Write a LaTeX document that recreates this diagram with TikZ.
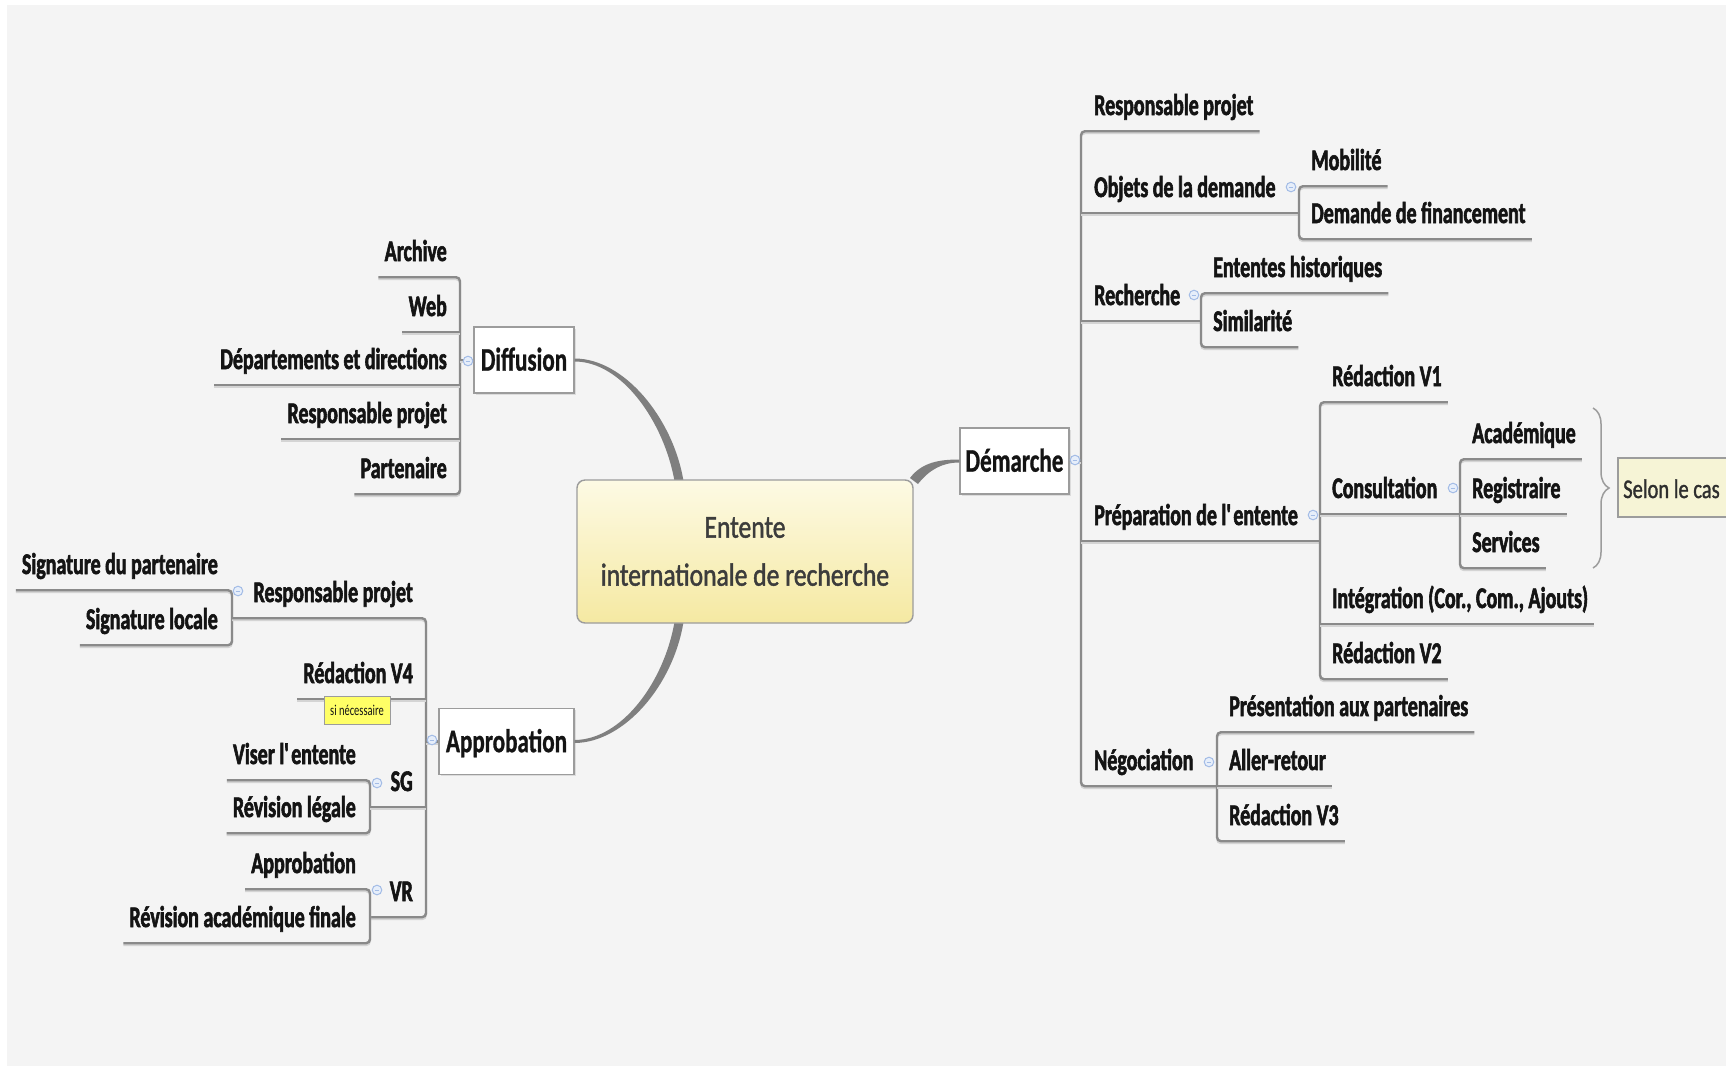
\documentclass[tikz,border=0pt]{standalone}
\usepackage{fontspec}
\newfontfamily\leaffont{Carlito}[FakeStretch=0.665, FakeBold=1.9]
\newfontfamily\topicfont{Carlito}[FakeStretch=0.70, FakeBold=0.8]
\newfontfamily\hubfont{Carlito}[FakeStretch=0.80, FakeBold=1.4]
\newfontfamily\casefont{Carlito}[FakeStretch=0.76, FakeBold=1.2]
\newfontfamily\tagfont{Carlito}[FakeStretch=0.70]
\usetikzlibrary{decorations.pathreplacing,shadows}

\definecolor{bg}{HTML}{F4F4F4}
\definecolor{tree}{HTML}{8A8A8A}
\definecolor{treeshade}{HTML}{D4D4D4}
\definecolor{curve}{HTML}{7F7F7F}
\definecolor{ink}{HTML}{141414}
\definecolor{hubink}{HTML}{3C3C3C}
\definecolor{hubtop}{HTML}{FDFAE4}
\definecolor{hubbot}{HTML}{F5E9A2}
\definecolor{boxline}{HTML}{9C9C9C}
\definecolor{knobline}{HTML}{A3BCE6}
\definecolor{knobfill}{HTML}{E6EEFA}
\definecolor{notefill}{HTML}{FFFF66}
\definecolor{casefill}{HTML}{F6F4D6}
\definecolor{caseink}{HTML}{2E2E2E}

\begin{document}
\begin{tikzpicture}[x=1pt, y=-1pt,
  leafbase/.style={font=\leaffont\bfseries\fontsize{30}{32}\selectfont, text=ink,
    inner xsep=6pt, inner ysep=16pt, text depth=0pt},
  leafL/.style={leafbase, anchor=base east},
  leafR/.style={leafbase, anchor=base west},
  tline/.style={draw=tree, line width=2.4pt, rounded corners=4pt,
    preaction={draw=treeshade, line width=2pt, transform canvas={yshift=-2pt}}},
  topic/.style={draw=boxline, line width=1.4pt, fill=white,
    font=\topicfont\bfseries\fontsize{33}{36}\selectfont, text=ink,
    text height=21.3pt, text depth=0pt, minimum height=66pt, inner xsep=4pt,
    drop shadow={shadow xshift=1.5pt, shadow yshift=-1.5pt, opacity=0.2}},
  hub/.style={rounded corners=8pt, draw=boxline, line width=1.4pt,
    top color=hubtop, bottom color=hubbot, minimum width=336pt, minimum height=143pt,
    align=center, font=\hubfont\fontsize{32}{48}\selectfont, text=hubink},
  note/.style={fill=notefill, draw=boxline, line width=0.8pt, minimum width=66pt,
    minimum height=28pt, inner sep=1pt, font=\tagfont\fontsize{15}{16}\selectfont, text=ink},
  caseframe/.style={fill=casefill, draw=boxline, line width=1.4pt},
  casetext/.style={anchor=base west, inner sep=0pt,
    font=\casefont\fontsize{27}{30}\selectfont, text=caseink},
  bracestyle/.style={draw=boxline, line width=1.5pt, decorate,
    decoration={brace, amplitude=16pt, aspect=0.5}},
  foldmark/.pic={\draw[knobline, fill=knobfill, line width=1pt] (0,0) circle (4.8pt);
    \draw[knobline, line width=1pt] (-2.4pt,0) -- (2.4pt,0);}
]
\useasboundingbox (0,0) rectangle (1726,1069);
\fill[white] (0,0) rectangle (1726,1069);
\fill[bg] (7,5) rectangle (1726,1066);

% vertical bus positions of each branch
\coordinate (dbus) at (460,0);
\coordinate (abus) at (426,0);
\coordinate (sigbus) at (232,0);
\coordinate (sgbus) at (370,0);
\coordinate (vrbus) at (370,0);
\coordinate (mbus) at (1081,0);
\coordinate (objbus) at (1299,0);
\coordinate (rechbus) at (1201,0);
\coordinate (prepbus) at (1320,0);
\coordinate (consbus) at (1460,0);
\coordinate (negbus) at (1217,0);

% main topics
\node[topic, minimum width=100pt] (diff) at (524,360) {Diffusion};
\node[topic, minimum width=135pt] (appr) at (506.5,741.5) {Approbation};
\node[topic, minimum width=109pt] (dem) at (1014.5,461) {Démarche};

% tapered branches from the central topic
\coordinate (dA) at (679,481);
\coordinate (aA) at (679,622);
\fill[curve] ([yshift=1.5pt]diff.east) .. controls (624,358.5) and (673,418) .. ([xshift=4.5pt]dA)
  -- ([xshift=-4.5pt]dA) .. controls (664,422) and (622,361.5) .. ([yshift=-1.5pt]diff.east) -- cycle;
\fill[curve] ([yshift=1.5pt]appr.east) .. controls (622,739.5) and (664,682) .. ([xshift=-4.5pt]aA)
  -- ([xshift=4.5pt]aA) .. controls (673,686) and (624,742.5) .. ([yshift=-1.5pt]appr.east) -- cycle;
\fill[curve] (910,478) .. controls (922,462) and (940,459.5) .. ([yshift=1.5pt]dem.west)
  -- ([yshift=-1.5pt]dem.west) .. controls (942,462.5) and (929,470) .. (918,484) -- cycle;

% central topic
\node[hub] (hub) at (745,551.5) {Entente\\internationale de recherche};

% Diffusion branch
\node[leafL] (arch) at (453,261) {Archive};
\node[leafL] (web) at (453,316) {Web};
\node[leafL] (dep) at (453,369) {Départements et directions};
\node[leafL] (rpd) at (453,423) {Responsable projet};
\node[leafL] (part) at (453,478) {Partenaire};

% Approbation branch
\node[leafL] (sigp) at (224,574) {Signature du partenaire};
\node[leafL] (sigl) at (224,629) {Signature locale};
\node[leafL] (rpa) at (419,602) {Responsable projet};
\node[leafL] (v4) at (419,683) {Rédaction V4};
\node[leafL] (vis) at (362,764) {Viser l\textquotesingle entente};
\node[leafL] (revl) at (362,817) {Révision légale};
\node[leafL] (sg) at (419,791) {SG};
\node[leafL] (appl) at (362,873) {Approbation};
\node[leafL] (reva) at (362,927) {Révision académique finale};
\node[leafL] (vr) at (419,901) {VR};

% Démarche branch
\node[leafR] (rpm) at (1088,115) {Responsable projet};
\node[leafR] (obj) at (1088,197) {Objets de la demande};
\node[leafR] (mob) at (1305,170) {Mobilité};
\node[leafR] (fin) at (1305,223) {Demande de financement};
\node[leafR] (rech) at (1088,305) {Recherche};
\node[leafR] (hist) at (1207,277) {Ententes historiques};
\node[leafR] (sim) at (1207,331) {Similarité};
\node[leafR] (prep) at (1088,525) {Préparation de l\textquotesingle entente};
\node[leafR] (v1) at (1326,386) {Rédaction V1};
\node[leafR] (cons) at (1326,498) {Consultation};
\node[leafR] (acad) at (1466,443) {Académique};
\node[leafR] (reg) at (1466,498) {Registraire};
\node[leafR] (serv) at (1466,552) {Services};
\node[leafR] (integ) at (1326,608) {Intégration (Cor., Com., Ajouts)};
\node[leafR] (v2) at (1326,663) {Rédaction V2};
\node[leafR] (neg) at (1088,770) {Négociation};
\node[leafR] (pres) at (1223,716) {Présentation aux partenaires};
\node[leafR] (aller) at (1223,770) {Aller-retour};
\node[leafR] (v3) at (1223,825) {Rédaction V3};

% Diffusion connectors
\draw[tline] (arch.south west) -- (arch.south -| dbus) -- (part.south -| dbus) -- (part.south west);
\draw[tline] (web.south west) -- (web.south -| dbus);
\draw[tline] (dep.south west) -- (dep.south -| dbus);
\draw[tline] (rpd.south west) -- (rpd.south -| dbus);
\draw[tline] (diff.west) -- (diff.west -| dbus);

% Approbation connectors
\draw[tline] (sigp.south west) -- (sigp.south -| sigbus) -- (sigl.south -| sigbus) -- (sigl.south west);
\draw[tline] (rpa.south -| sigbus) -- (rpa.south -| abus) -- (vr.south -| abus) -- (vr.south -| vrbus);
\draw[tline] (v4.south west) -- (v4.south -| abus);
\draw[tline] (vis.south west) -- (vis.south -| sgbus) -- (revl.south -| sgbus) -- (revl.south west);
\draw[tline] (sg.south -| sgbus) -- (sg.south -| abus);
\draw[tline] (appl.south west) -- (appl.south -| vrbus) -- (reva.south -| vrbus) -- (reva.south west);
\draw[tline] (appr.west) -- (appr.west -| abus);

% Démarche connectors
\draw[tline] (rpm.south east) -- (rpm.south -| mbus) -- (neg.south -| mbus) -- (neg.south -| negbus);
\draw[tline] (obj.south -| mbus) -- (obj.south -| objbus);
\draw[tline] (mob.south east) -- (mob.south -| objbus) -- (fin.south -| objbus) -- (fin.south east);
\draw[tline] (rech.south -| mbus) -- (rech.south -| rechbus);
\draw[tline] (hist.south east) -- (hist.south -| rechbus) -- (sim.south -| rechbus) -- (sim.south east);
\draw[tline] (prep.south -| mbus) -- (prep.south -| prepbus);
\draw[tline] (v1.south east) -- (v1.south -| prepbus) -- (v2.south -| prepbus) -- (v2.south east);
\draw[tline] (cons.south -| prepbus) -- (cons.south -| consbus);
\draw[tline] (integ.south -| prepbus) -- (integ.south east);
\draw[tline] (acad.south east) -- (acad.south -| consbus) -- (serv.south -| consbus) -- (serv.south east);
\draw[tline] (reg.south -| consbus) -- (reg.south east);
\draw[tline] (pres.south east) -- (pres.south -| negbus) -- (v3.south -| negbus) -- (v3.south east);
\draw[tline] (aller.south -| negbus) -- (aller.south east);
\draw[tline] (dem.east) -- (dem.east -| mbus);

% collapse marks
\pic at (468,361) {foldmark};
\pic at (432,740) {foldmark};
\pic at (238,591) {foldmark};
\pic at (377,783) {foldmark};
\pic at (377,890) {foldmark};
\pic at (1075,460) {foldmark};
\pic at (1291,187) {foldmark};
\pic at (1194,295) {foldmark};
\pic at (1313,515) {foldmark};
\pic at (1453,488) {foldmark};
\pic at (1209,762) {foldmark};

% callout on Rédaction V4
\node[note] (sinec) at (357,710) {si nécessaire};

% grouping brace on the consultation list, with its label running off the page edge
\coordinate (bt) at (1593,408);
\coordinate (bb) at (1593,568);
\draw[bracestyle] (bt) -- (bb);
\path[caseframe] (1618,458) rectangle (1760,517);
\node[casetext] (cas) at (1623,498) {Selon le cas};
\end{tikzpicture}
\end{document}
